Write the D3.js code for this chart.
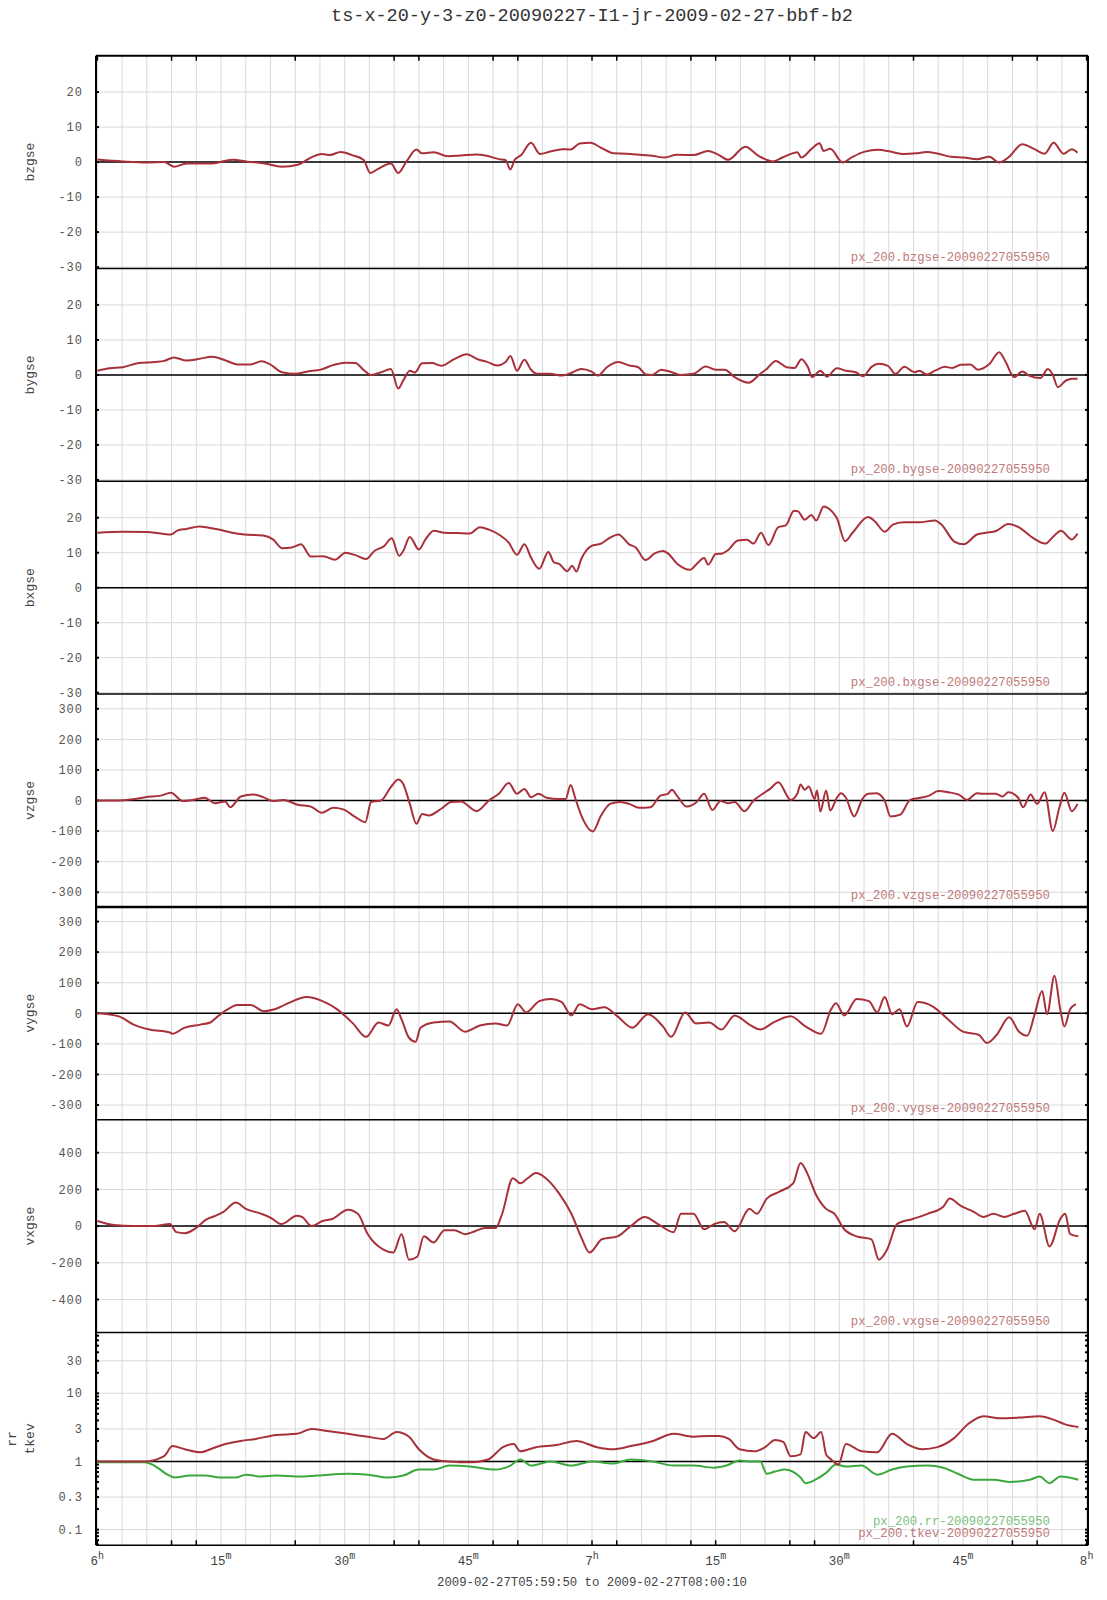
<!DOCTYPE html>
<meta charset="utf-8">
<title>ts-x-20-y-3-z0-20090227-I1-jr-2009-02-27-bbf-b2</title>
<style>
body { margin: 0; background: #fff; }
text { font-family: "Liberation Mono", "DejaVu Sans Mono", monospace; }
.grid line { stroke: #d9d9d9; stroke-width: 1px; }
</style>
<body>
<svg width="1107" height="1600" id="svg"></svg>
<script src="https://d3js.org/d3.v7.min.js"></script>
<script>

// series: [minutes after 06:00 UT, value]
var bzgse = [[0,0.75],[3.1,0.2],[6.0,-0.1],[8.1,0],[9.3,-1.3],[10.8,-0.4],[13.9,-0.4],[16.4,0.7],[18.2,0.1],[20.1,-0.3],[22.4,-1.3],[24.3,-0.75],[25.9,1.3],[27.2,2.3],[28.2,2.0],[29.5,2.9],[30.9,2.0],[32.3,0.6],[33.1,-3.1],[34.0,-2.0],[35.6,-0.4],[36.5,-3.1],[37.5,0.2],[38.7,3.6],[39.4,2.5],[40.8,2.8],[42.5,1.7],[44.1,1.9],[46.0,2.2],[47.2,1.8],[48.7,0.85],[49.5,0.6],[50.1,-2.1],[50.6,0.6],[51.4,2.0],[52.6,5.5],[53.7,2.3],[54.9,3.0],[56.4,3.7],[57.4,3.6],[58.5,5.3],[59.8,5.5],[61.1,4.1],[62.6,2.5],[64.2,2.4],[66.1,2.0],[67.3,1.8],[68.8,1.3],[70.3,2.1],[72.3,2.0],[74.1,3.2],[75.4,2.0],[76.5,0.65],[78.6,4.4],[80.2,1.8],[81.9,0.2],[83.1,1.3],[84.3,2.5],[84.9,2.8],[85.4,1.3],[86.6,3.7],[87.6,5.4],[88.1,3.2],[88.9,3.8],[90.4,-0.1],[91.6,1.5],[93.1,3.0],[94.7,3.5],[96.2,3.0],[97.8,2.3],[99.3,2.5],[100.6,2.9],[102.0,2.4],[103.6,1.5],[105.1,1.3],[106.7,0.85],[108.2,1.5],[109.4,-0.1],[110.5,1.3],[112.2,5.1],[113.6,3.8],[114.9,2.4],[116.0,5.5],[117.2,2.4],[118.2,3.7],[118.9,2.7]];

var bygse = [[0,1.2],[1.5,1.9],[3.1,2.2],[5.0,3.4],[7.0,3.7],[8.1,4.0],[9.3,5.0],[10.8,4.1],[12.4,4.6],[13.9,5.2],[15.5,4.2],[17.0,3.0],[18.6,3.0],[19.9,3.9],[20.9,3.1],[22.4,0.75],[24.0,0.3],[25.5,1.0],[27.1,1.5],[28.6,2.8],[30.1,3.5],[31.3,3.4],[32.3,1.4],[33.2,0],[34.4,0.75],[35.6,1.7],[36.5,-3.9],[37.1,-1.6],[37.9,1.2],[38.5,0.7],[39.4,3.3],[40.6,3.4],[41.7,2.6],[43.3,4.5],[44.8,5.9],[46.2,4.4],[47.2,3.8],[48.5,2.7],[49.5,3.6],[50.1,5.4],[50.9,1.2],[51.8,4.3],[52.6,1.5],[53.3,0.3],[54.9,0.3],[56.4,-0.2],[57.6,0.7],[58.7,1.7],[59.9,1.0],[60.7,-0.2],[61.8,2.2],[63.2,3.7],[64.5,2.7],[65.6,2.2],[66.6,0.1],[67.3,0],[68.4,1.5],[69.6,0.85],[70.7,0],[72.3,0.3],[73.8,2.4],[75.0,1.5],[76.1,1.5],[77.3,-0.65],[79.0,-2.25],[80.4,0.3],[81.2,1.7],[82.3,4.0],[83.6,2.2],[84.6,2.0],[85.4,4.5],[86.2,2.2],[86.7,-0.65],[87.7,1.2],[88.5,-0.5],[89.7,1.9],[90.8,1.2],[92.0,0.75],[92.9,-0.4],[93.9,2.3],[94.8,3.2],[95.9,2.6],[96.8,0.3],[97.9,2.3],[99.1,0.75],[99.7,1.2],[100.6,0.1],[101.6,1.2],[102.8,2.3],[103.7,2.0],[104.7,2.9],[105.9,3.0],[106.8,1.5],[108.2,3.1],[109.4,6.5],[110.2,3.6],[111.2,-0.65],[112.2,1.0],[113.0,-0.2],[114.4,-0.9],[115.3,1.7],[115.9,0],[116.5,-3.5],[117.5,-1.6],[118.2,-1.1],[118.9,-1.1]];

var bxgse = [[0,15.7],[3.1,16.0],[6.0,15.9],[7.7,15.5],[8.9,15.2],[9.7,16.3],[10.8,16.8],[12.4,17.5],[13.5,17.1],[14.7,16.6],[16.2,15.8],[17.8,15.2],[20.1,14.9],[21.3,13.8],[22.4,11.3],[23.6,11.5],[24.7,12.4],[25.9,8.9],[27.4,9.0],[28.8,8.0],[30.1,10.0],[31.3,9.3],[32.6,8.2],[33.6,10.5],[34.8,11.9],[35.7,14.1],[36.6,9.1],[37.1,10.5],[37.9,14.5],[39.0,10.9],[39.8,13.8],[40.8,16.3],[42.1,15.7],[43.7,15.6],[45.2,15.5],[46.4,17.3],[47.5,16.6],[48.7,15.2],[49.9,12.9],[50.9,9.4],[51.8,12.4],[52.6,8.6],[53.6,5.4],[54.7,10.2],[55.4,7.2],[56.0,6.8],[57.0,4.7],[57.6,6.3],[58.1,4.6],[58.7,8.2],[59.9,11.9],[61.1,12.6],[62.2,14.3],[63.2,15.2],[64.5,12.4],[65.3,11.5],[66.5,7.9],[67.6,9.8],[68.6,10.5],[69.2,9.8],[70.3,6.9],[71.9,5.1],[72.7,6.8],[73.6,8.5],[74.1,6.6],[75.0,9.6],[75.8,9.8],[76.5,10.7],[77.7,13.5],[78.8,13.7],[79.6,12.6],[80.5,15.7],[81.4,12.2],[82.6,17.3],[83.5,17.8],[84.5,22.0],[85.0,21.8],[85.8,19.4],[86.6,20.8],[87.2,19.2],[88.1,23.2],[89.1,21.8],[89.7,19.9],[90.7,13.3],[91.6,15.7],[93.5,20.2],[94.3,19.0],[95.5,16.0],[96.5,18.0],[97.8,18.7],[99.7,18.7],[101.6,19.2],[102.4,18.0],[104.0,13.1],[105.1,12.4],[106.7,15.2],[107.8,15.7],[109.0,16.2],[110.5,18.2],[111.9,17.1],[113.2,14.7],[115.0,12.6],[115.9,14.5],[116.9,16.3],[118.2,13.8],[118.9,15.5]];

var vzgse = [[0,0],[2.3,0],[4.3,4],[5.8,11],[7.7,16],[8.9,25],[10.4,-2],[11.6,2],[13.0,9],[14.3,-9],[15.5,-3],[16.1,-22],[17.4,13],[18.9,20],[20.1,11],[21.3,-2],[22.6,2],[24.3,-14],[25.9,-20],[27.2,-40],[28.6,-24],[29.8,-29],[31.3,-54],[32.5,-71],[33.2,-5],[34.4,0],[35.6,44],[36.5,69],[37.1,54],[37.9,-11],[38.7,-76],[39.4,-44],[40.2,-49],[41.7,-27],[42.9,-5],[44.1,-3],[46.0,-35],[47.5,0],[48.7,22],[49.9,57],[50.9,22],[51.8,38],[52.6,11],[53.5,22],[54.5,9],[56.0,5],[56.8,5],[57.4,51],[58.0,5],[58.7,-49],[60.1,-101],[61.1,-49],[62.2,-11],[63.4,-5],[64.5,-11],[65.7,-24],[67.1,-22],[68.3,16],[69.2,22],[69.7,35],[70.3,16],[71.5,-20],[72.7,-5],[73.6,22],[74.6,-31],[75.6,-2],[76.5,-9],[77.3,-5],[78.5,-35],[79.6,0],[81.0,27],[81.6,38],[82.6,60],[84.1,2],[84.9,22],[85.3,52],[85.8,35],[86.3,46],[87.0,5],[87.3,33],[87.7,-36],[88.4,33],[88.9,-33],[89.7,9],[90.2,24],[90.8,9],[91.8,-52],[92.8,5],[93.5,22],[94.5,24],[95.5,0],[96.2,-52],[97.4,-46],[98.6,2],[99.7,8],[100.9,16],[102.0,31],[103.2,27],[104.5,19],[105.5,2],[106.7,24],[107.4,22],[109.0,22],[109.8,13],[110.5,27],[111.7,9],[112.3,-22],[113.2,20],[114.0,-11],[114.9,27],[115.9,-100],[116.7,-22],[117.3,25],[118.2,-35],[118.9,-11]];

var vygse = [[0,0],[2.6,-10],[4.4,-37],[6.3,-53],[8.8,-63],[9.1,-67],[10.6,-47],[12.5,-37],[13.7,-30],[14.6,-10],[15.8,13],[17.0,27],[18.6,27],[20.2,7],[21.5,13],[22.9,30],[25.4,53],[27.3,40],[29.1,13],[31.0,-33],[32.6,-77],[34.1,-30],[35.3,-40],[36.3,13],[36.9,-20],[37.8,-80],[38.6,-93],[39.2,-47],[40.8,-30],[42.7,-27],[44.6,-60],[46.4,-40],[48.3,-33],[49.7,-40],[51.0,30],[52.0,3],[53.6,40],[55.0,47],[56.3,37],[57.5,-7],[58.5,30],[60.0,13],[61.5,20],[63.1,-10],[64.9,-47],[66.8,-3],[68.6,-43],[69.6,-77],[71.3,3],[72.6,-33],[74.2,-30],[75.7,-53],[77.3,-7],[79.1,-37],[80.4,-53],[82.2,-27],[84.1,-10],[85.9,-43],[87.8,-67],[89.0,13],[89.6,33],[90.6,-7],[92.1,47],[93.6,40],[94.6,3],[95.5,53],[96.4,-3],[97.3,13],[98.2,-43],[99.5,37],[101.3,23],[103.2,-20],[105.0,-60],[106.9,-70],[107.9,-97],[109.1,-70],[110.6,-13],[111.8,-60],[112.8,-73],[113.7,-3],[114.6,73],[115.2,-3],[116.1,123],[116.8,13],[117.3,-43],[118.0,13],[118.7,30]];

var vxgse = [[0,28],[2.0,6],[4.4,0],[6.9,0],[8.8,11],[9.6,-33],[10.6,-39],[12.1,-6],[13.1,33],[14.3,56],[15.3,78],[16.8,128],[18.0,94],[19.9,67],[21.1,44],[22.3,11],[24.2,56],[24.8,50],[26.0,0],[27.3,28],[28.5,39],[30.4,89],[31.6,67],[32.8,-44],[34.7,-128],[35.9,-144],[36.9,-44],[37.8,-183],[38.8,-167],[39.6,-56],[40.8,-89],[42.1,-22],[43.3,-22],[44.6,-44],[45.8,-28],[47.0,-11],[48.3,-11],[49.1,67],[50.4,261],[51.3,233],[52.2,261],[53.2,289],[54.4,261],[56.0,178],[57.5,67],[58.8,-72],[59.7,-144],[61.2,-72],[63.1,-56],[64.7,0],[66.4,50],[68.0,11],[69.9,-33],[70.8,67],[72.3,67],[73.6,-17],[74.8,11],[76.0,22],[77.3,-28],[79.1,94],[80.0,67],[81.2,150],[82.8,189],[84.4,233],[85.3,344],[86.1,289],[87.1,178],[88.4,94],[89.4,67],[90.6,-17],[92.1,-56],[93.9,-72],[94.8,-183],[95.8,-128],[97.0,11],[98.9,39],[100.7,67],[102.6,106],[103.4,150],[104.7,111],[106.3,78],[107.5,50],[108.7,67],[110.0,50],[111.2,67],[112.5,83],[113.7,-17],[114.3,67],[115.5,-111],[116.8,39],[117.4,67],[118.0,-44],[119.0,-56]];

var tkev = [[0,1],[5.7,1],[8.1,1.2],[9.1,1.68],[10.6,1.51],[12.5,1.36],[13.7,1.51],[15.5,1.8],[17.4,2.0],[19.2,2.14],[21.7,2.45],[24.2,2.54],[26.0,3.0],[27.9,2.8],[30.4,2.54],[32.8,2.3],[34.7,2.14],[36.3,2.7],[37.8,2.3],[39.0,1.51],[40.8,1.07],[42.7,1.0],[45.2,0.97],[47.4,1.07],[49.2,1.62],[50.5,1.8],[51.3,1.41],[53.2,1.62],[55.7,1.74],[58.1,2.0],[60.6,1.62],[62.5,1.51],[64.7,1.68],[67.4,2.0],[69.9,2.54],[72.3,2.3],[74.2,2.37],[75.4,2.37],[76.6,2.14],[77.9,1.51],[79.7,1.41],[81.0,1.62],[82.2,2.07],[83.2,1.93],[84.1,1.19],[85.3,1.27],[85.9,2.7],[86.9,2.2],[87.8,2.7],[88.4,1.27],[89.0,1.07],[89.9,0.9],[90.8,1.8],[92.7,1.41],[94.6,1.36],[96.4,2.54],[98.2,1.8],[100.1,1.51],[101.9,1.62],[103.8,2.14],[105.7,3.6],[107.5,4.6],[109.4,4.3],[111.8,4.4],[114.3,4.6],[116.2,4.0],[117.4,3.5],[119.0,3.2]];

var rr = [[0,0.97],[5.7,0.97],[6.9,0.87],[8.5,0.64],[9.4,0.58],[11.2,0.62],[13.1,0.62],[14.9,0.58],[16.8,0.58],[18.0,0.64],[19.9,0.6],[21.7,0.62],[24.2,0.6],[26.7,0.62],[30.4,0.66],[32.8,0.64],[35.3,0.58],[37.1,0.62],[39.0,0.76],[40.8,0.76],[42.7,0.87],[45.2,0.84],[48.3,0.76],[50.1,0.87],[51.3,1.07],[52.6,0.87],[55.0,1.0],[57.5,0.87],[60.0,1.0],[62.5,0.93],[64.7,1.07],[67.4,1.0],[69.9,0.87],[72.3,0.87],[74.8,0.81],[76.3,0.87],[77.9,1.03],[79.1,1.0],[80.4,1.0],[81.2,0.66],[82.2,0.71],[83.4,0.76],[85.3,0.58],[85.9,0.48],[87.1,0.54],[88.4,0.68],[89.6,0.9],[90.8,0.84],[92.7,0.87],[94.6,0.64],[96.4,0.76],[98.2,0.84],[100.7,0.87],[102.6,0.81],[104.4,0.66],[106.3,0.54],[108.7,0.54],[110.6,0.5],[113.1,0.54],[114.3,0.6],[115.5,0.48],[116.8,0.6],[119.0,0.54]];

// axis labels / ticks
var bTicks = [-30, -20, -10, 0, 10, 20];
var vTicks = [-300, -200, -100, 0, 100, 200, 300];
var vxTicks = [-400, -200, 0, 200, 400];
var logTicks = [0.1, 0.3, 1, 3, 10, 30];
var xLabels = [[0, "6", "h"], [15, "15", "m"], [30, "30", "m"], [45, "45", "m"], [60, "7", "h"],
               [75, "15", "m"], [90, "30", "m"], [105, "45", "m"], [120, "8", "h"]];
var xMajorTicks = [9, 12, 24, 36, 39, 48, 51, 60, 63, 72, 75, 84, 87, 99, 111, 114];

var red = "#a8303a", green = "#3aa83a";

var svg = d3.select("svg"),
    pLeft = 96, pRight = 1088, pTop = 55.7, panelH = 212.8, nPanels = 7,
    pBottom = pTop + panelH * nPanels;

var t0 = Date.UTC(2009, 1, 27, 6, 0, 0);
function tm(m) { return new Date(t0 + m * 60000); }

var x = d3.scaleUtc()
    .domain([new Date(Date.UTC(2009, 1, 27, 5, 59, 50)), new Date(Date.UTC(2009, 1, 27, 8, 0, 10))])
    .range([pLeft, pRight]);

var panels = [
  {label: ["bzgse"], series: [[bzgse, red]], domain: [-30.4, 30.4], ticks: bTicks, zero: 0, legend: [["px_200.bzgse-20090227055950", "#c07a7a"]]},
  {label: ["bygse"], series: [[bygse, red]], domain: [-30.4, 30.4], ticks: bTicks, zero: 0, legend: [["px_200.bygse-20090227055950", "#c07a7a"]]},
  {label: ["bxgse"], series: [[bxgse, red]], domain: [-30.4, 30.4], ticks: bTicks, zero: 0, legend: [["px_200.bxgse-20090227055950", "#c07a7a"]]},
  {label: ["vzgse"], series: [[vzgse, red]], domain: [-348, 348], ticks: vTicks, zero: 0, legend: [["px_200.vzgse-20090227055950", "#c07a7a"]]},
  {label: ["vygse"], series: [[vygse, red]], domain: [-348, 348], ticks: vTicks, zero: 0, legend: [["px_200.vygse-20090227055950", "#c07a7a"]]},
  {label: ["vxgse"], series: [[vxgse, red]], domain: [-580, 580], ticks: vxTicks, zero: 0, legend: [["px_200.vxgse-20090227055950", "#c07a7a"]]},
  {label: ["rr", "tkev"], series: [[rr, green], [tkev, red]], domain: [0.0588, 78], ticks: logTicks, zero: 1, log: true,
   legend: [["px_200.rr-20090227055950", "#7cc07c"], ["px_200.tkev-20090227055950", "#c07a7a"]]}
];

// title
svg.append("text")
    .attr("x", (pLeft + pRight) / 2).attr("y", 21)
    .attr("text-anchor", "middle")
    .attr("font-size", "18.5px").attr("fill", "#333")
    .text("ts-x-20-y-3-z0-20090227-I1-jr-2009-02-27-bbf-b2");

// vertical grid every 3 minutes
var vgrid = svg.append("g").attr("class", "grid");
vgrid.selectAll("line").data(d3.range(0, 121, 3)).enter().append("line")
    .attr("x1", function(d) { return x(tm(d)); }).attr("x2", function(d) { return x(tm(d)); })
    .attr("y1", pTop).attr("y2", pBottom);

svg.append("clipPath").attr("id", "clip").append("rect")
    .attr("x", pLeft).attr("y", pTop).attr("width", pRight - pLeft).attr("height", pBottom - pTop);

panels.forEach(function(p, i) {
  var y0 = pTop + i * panelH, y1 = y0 + panelH;
  var y = (p.log ? d3.scaleLog() : d3.scaleLinear()).domain(p.domain).range([y1, y0]);
  var g = svg.append("g");

  // horizontal grid
  g.append("g").attr("class", "grid").selectAll("line").data(p.ticks).enter().append("line")
      .attr("x1", pLeft).attr("x2", pRight)
      .attr("y1", function(d) { return y(d); }).attr("y2", function(d) { return y(d); });

  // tick labels
  g.selectAll("text.tick").data(p.ticks).enter().append("text")
      .attr("class", "tick")
      .attr("x", 83).attr("y", function(d) { return y(d); })
      .attr("dy", "0.35em").attr("text-anchor", "end")
      .attr("font-size", "12px").attr("fill", "#555")
      .attr("letter-spacing", "1px")
      .text(function(d) { return d < 0 ? "-" + Math.abs(d) : String(d); });

  // inner tick marks on left/right axes
  var tickVals = p.ticks;
  if (p.log) {
    tickVals = [];
    [0.01, 0.1, 1, 10].forEach(function(dec) {
      for (var k = 1; k < 10; k++) {
        var v = dec * k;
        if (v >= p.domain[0] && v <= p.domain[1]) tickVals.push(v);
      }
    });
  }
  [[pLeft, 1], [pRight, -1]].forEach(function(s) {
    g.selectAll(null).data(tickVals).enter().append("line")
        .attr("x1", s[0]).attr("x2", s[0] + s[1] * 3)
        .attr("y1", function(d) { return y(d); }).attr("y2", function(d) { return y(d); })
        .attr("stroke", "#000").attr("stroke-width", 2);
  });

  // zero line
  g.append("line")
      .attr("x1", pLeft).attr("x2", pRight)
      .attr("y1", y(p.zero)).attr("y2", y(p.zero))
      .attr("stroke", "#000").attr("stroke-width", 1.5);

  // panel bottom border
  g.append("line")
      .attr("x1", pLeft).attr("x2", pRight)
      .attr("y1", y1).attr("y2", y1)
      .attr("stroke", "#000").attr("stroke-width", i == 3 ? 2.5 : 1.5);

  // series
  var line = d3.line()
      .x(function(d) { return x(tm(d[0])); })
      .y(function(d) { return y(d[1]); })
      .curve(d3.curveMonotoneX);
  p.series.forEach(function(s) {
    g.append("path")
        .datum(s[0])
        .attr("clip-path", "url(#clip)")
        .attr("fill", "none")
        .attr("stroke", s[1])
        .attr("stroke-width", 2)
        .attr("d", line);
  });

  // axis label(s)
  var cy = (y0 + y1) / 2;
  p.label.forEach(function(lbl, j) {
    var lx = p.label.length == 1 ? 34 : 16 + j * 18;
    svg.append("text")
        .attr("transform", "translate(" + lx + "," + cy + ") rotate(-90)")
        .attr("text-anchor", "middle")
        .attr("font-size", "13px").attr("fill", "#444")
        .text(lbl);
  });

  // legend
  p.legend.forEach(function(l, j) {
    g.append("text")
        .attr("x", 1050)
        .attr("y", y1 - 8 - (p.legend.length - 1 - j) * 12.5)
        .attr("text-anchor", "end")
        .attr("font-size", "12.3px").attr("fill", l[1])
        .text(l[0]);
  });
});

// outer frame
svg.append("line").attr("x1", pLeft).attr("x2", pLeft).attr("y1", pTop).attr("y2", pBottom).attr("stroke", "#000").attr("stroke-width", 2);
svg.append("line").attr("x1", pRight).attr("x2", pRight).attr("y1", pTop).attr("y2", pBottom).attr("stroke", "#000").attr("stroke-width", 2);
svg.append("line").attr("x1", pLeft).attr("x2", pRight).attr("y1", pTop).attr("y2", pTop).attr("stroke", "#000").attr("stroke-width", 2);

// time ticks top and bottom
[[pTop, 1], [pBottom, -1]].forEach(function(s) {
  svg.selectAll(null).data(xMajorTicks.concat([0, 120])).enter().append("line")
      .attr("x1", function(d) { return x(tm(d)); }).attr("x2", function(d) { return x(tm(d)); })
      .attr("y1", s[0]).attr("y2", s[0] + s[1] * 5)
      .attr("stroke", "#000").attr("stroke-width", 1.5);
});

// time labels with superscripts
var xl = svg.selectAll("text.xl").data(xLabels).enter().append("text")
    .attr("class", "xl")
    .attr("x", function(d) { return x(tm(d[0])); })
    .attr("y", 1565)
    .attr("text-anchor", "middle")
    .attr("font-size", "12.5px").attr("fill", "#444");
xl.append("tspan").text(function(d) { return d[1]; });
xl.append("tspan").attr("dy", -6).attr("font-size", "10px").text(function(d) { return d[2]; });

svg.append("text")
    .attr("x", (pLeft + pRight) / 2).attr("y", 1586)
    .attr("text-anchor", "middle")
    .attr("font-size", "12.3px").attr("fill", "#444")
    .text("2009-02-27T05:59:50 to 2009-02-27T08:00:10");

</script>
</body>
